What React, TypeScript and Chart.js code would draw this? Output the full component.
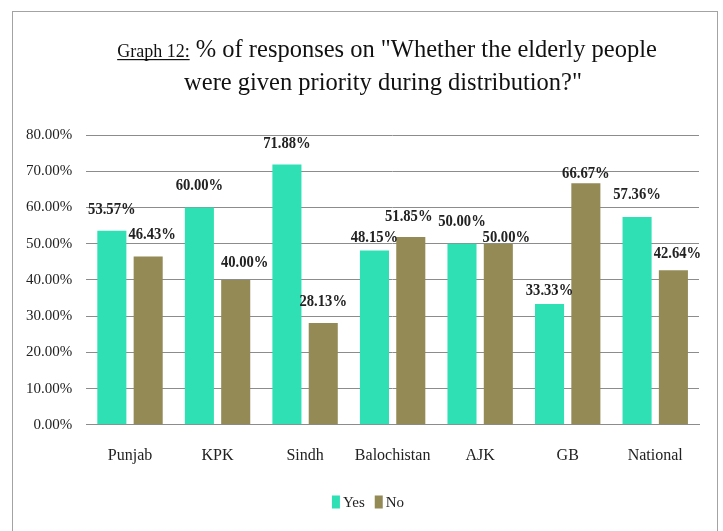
import React, { useEffect, useRef } from "react";
import { Chart, registerables } from "chart.js";

Chart.register(...registerables);

// Survey shares by region
const regions = ["Punjab", "KPK", "Sindh", "Balochistan", "AJK", "GB", "National"];
const yesShare = [53.57, 60.0, 71.88, 48.15, 50.0, 33.33, 57.36];
const noShare = [46.43, 40.0, 28.13, 51.85, 50.0, 66.67, 42.64];
const seriesNames = ["Yes", "No"];

const yAxisMin = 0;
const yAxisMax = 80;
const yAxisStep = 10;

const titlePrefix = "Graph 12:";
const titleLine1 = " % of responses on \"Whether the elderly people";
const titleLine2 = "were given priority during distribution?\"";

const SERIF = "'Liberation Serif', 'DejaVu Serif', serif";
const YES_COLOR = "#2EE0B4";
const NO_COLOR = "#948A55";
const GRID_COLOR = "#8c8c8c";

// Value-label placement: [dx, lift above bar top] per series, per region,
// nudged where neighbouring labels would collide
const LABEL_DEFAULT_LIFT = 21;
const yesLabelNudge: [number, number][] = [
  [0, 21], [0, 22], [0, 21], [0, 13], [0, 22], [0, 13], [0, 22],
];
const noLabelNudge: [number, number][] = [
  [4, 22], [9, 17], [0, 21], [-2, 20], [8, 6], [0, 10], [4, 17],
];
const labelNudges = [yesLabelNudge, noLabelNudge];

const fmtPct = (v: number) => v.toFixed(2) + "%";

// Two-line heading with an underlined lead-in
const headingPlugin = {
  id: "heading",
  afterDraw(chart: Chart) {
    const ctx = chart.ctx;
    ctx.save();
    ctx.fillStyle = "#111";
    ctx.textBaseline = "alphabetic";
    ctx.textAlign = "left";

    const bigFont = `24.5px ${SERIF}`;
    const smallFont = `18px ${SERIF}`;

    ctx.font = smallFont;
    const wPrefix = ctx.measureText(titlePrefix).width;
    ctx.font = bigFont;
    const wRest = ctx.measureText(titleLine1).width;
    const total = wPrefix + wRest;
    const cx1 = 374;
    const base1 = 45;
    let x = cx1 - total / 2;
    ctx.font = smallFont;
    ctx.fillText(titlePrefix, x, base1);
    ctx.fillRect(x, base1 + 2, wPrefix, 1.2);
    x += wPrefix;
    ctx.font = bigFont;
    ctx.fillText(titleLine1, x, base1);

    ctx.textAlign = "center";
    ctx.fillText(titleLine2, 370, 78);
    ctx.restore();
  },
};

// Compact legend below the category labels
const legendPlugin = {
  id: "compactLegend",
  afterDraw(chart: Chart) {
    const ctx = chart.ctx;
    ctx.save();
    ctx.font = `15px ${SERIF}`;
    ctx.textBaseline = "middle";
    ctx.textAlign = "left";
    const boxW = 8;
    const boxH = 13;
    const textGap = 3;
    const itemGap = 10;
    const items = chart.data.datasets.map((ds) => ({
      text: String(ds.label),
      color: String(ds.backgroundColor),
      w: boxW + textGap + ctx.measureText(String(ds.label)).width,
    }));
    const total = items.reduce((s, it) => s + it.w, 0) + itemGap * (items.length - 1);
    const cy = 490;
    let x = 355 - total / 2;
    items.forEach((it) => {
      ctx.fillStyle = it.color;
      ctx.fillRect(x, cy - boxH / 2, boxW, boxH);
      ctx.fillStyle = "#222";
      ctx.fillText(it.text, x + boxW + textGap, cy + 1);
      x += it.w + itemGap;
    });
    ctx.restore();
  },
};

// Value labels above each bar
const valueLabelPlugin = {
  id: "valueLabels",
  afterDatasetsDraw(chart: Chart) {
    const ctx = chart.ctx;
    ctx.save();
    ctx.font = `bold 17px ${SERIF}`;
    ctx.fillStyle = "#222";
    ctx.textAlign = "center";
    ctx.textBaseline = "middle";
    chart.data.datasets.forEach((ds, di) => {
      const meta = chart.getDatasetMeta(di);
      meta.data.forEach((bar: any, i: number) => {
        const v = ds.data[i] as number;
        const [dx, lift] = labelNudges[di]?.[i] ?? [0, LABEL_DEFAULT_LIFT];
        ctx.save();
        ctx.translate(bar.x + dx, bar.y - lift);
        ctx.scale(0.86, 1);
        ctx.fillText(fmtPct(v), 0, 0);
        ctx.restore();
      });
    });
    ctx.restore();
  },
};

function ElderlyPriorityChart() {
  const canvasRef = useRef<HTMLCanvasElement | null>(null);

  useEffect(() => {
    if (!canvasRef.current) return;
    const chart = new Chart(canvasRef.current, {
      type: "bar",
      data: {
        labels: regions,
        datasets: [
          {
            label: seriesNames[0],
            data: yesShare,
            backgroundColor: YES_COLOR,
            categoryPercentage: 0.83,
            barPercentage: 0.8,
          },
          {
            label: seriesNames[1],
            data: noShare,
            backgroundColor: NO_COLOR,
            categoryPercentage: 0.83,
            barPercentage: 0.8,
          },
        ],
      },
      options: {
        responsive: false,
        animation: false,
        devicePixelRatio: 1,
        layout: { padding: { top: 123, left: -1, right: 18, bottom: 45 } },
        plugins: {
          title: { display: false },
          tooltip: { enabled: false },
          legend: { display: false },
        },
        scales: {
          x: {
            grid: { display: false, drawTicks: false },
            border: { display: true, color: GRID_COLOR, width: 1 },
            ticks: { color: "#222", padding: 21, font: { family: SERIF, size: 16 } },
          },
          y: {
            min: yAxisMin,
            max: yAxisMax,
            grid: { color: GRID_COLOR, lineWidth: 1, drawTicks: false },
            border: { display: false },
            ticks: {
              stepSize: yAxisStep,
              padding: 14,
              color: "#222",
              font: { family: SERIF, size: 15 },
              callback: (v: any) => fmtPct(Number(v)),
            },
          },
        },
      },
      plugins: [headingPlugin, valueLabelPlugin, legendPlugin],
    });
    return () => chart.destroy();
  }, []);

  return (
    <div
      style={{
        position: "fixed",
        left: 0,
        top: 0,
        width: 723,
        height: 531,
        background: "#fff",
        overflow: "hidden",
      }}
    >
      <div
        style={{
          position: "absolute",
          left: 12,
          top: 11,
          width: 704,
          height: 560,
          border: "1.5px solid #a3a3a3",
        }}
      />
      <canvas
        ref={canvasRef}
        width={704}
        height={519}
        style={{ position: "absolute", left: 13, top: 12, width: 704, height: 519 }}
      />
    </div>
  );
}

export default function App() {
  return <ElderlyPriorityChart />;
}
